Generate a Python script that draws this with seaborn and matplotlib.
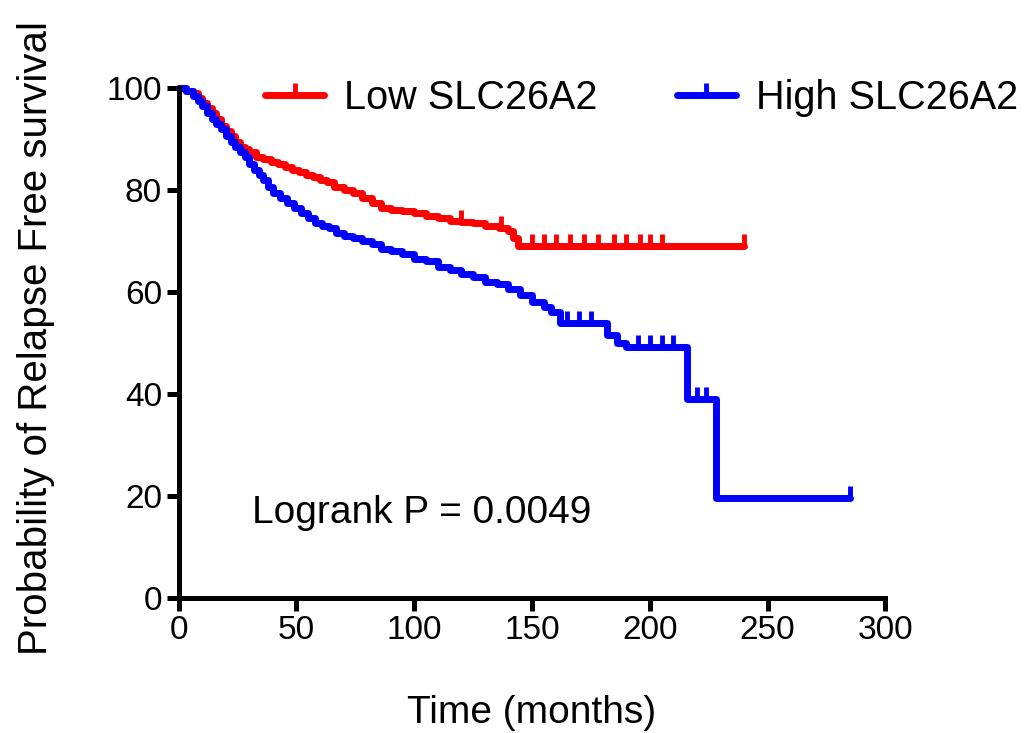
import numpy as np
import pandas as pd
import matplotlib
matplotlib.use("Agg")
import matplotlib.pyplot as plt
import seaborn as sns
from matplotlib.lines import Line2D

# step points of the Kaplan-Meier curves (time in months, survival in %)
low_times = [0, 3, 6, 8, 10, 12, 14, 16, 18, 20, 22, 24, 26, 28, 30, 33, 36, 39, 42, 45,
             48, 51, 54, 57, 60, 63, 66, 70, 74, 78, 82, 86, 90, 95, 100, 105, 110, 115,
             120, 125, 130, 136, 140, 142, 144, 240]
low_surv = [100, 99.5, 99, 98, 97, 96, 95, 94, 92.5, 91.5, 90.5, 89.5, 88.5, 88, 87.5, 86.5,
            86, 85.5, 85, 84.5, 84, 83.5, 83, 82.5, 82, 81.5, 80.5, 80, 79.5, 78.5, 77.5,
            76.5, 76, 75.8, 75.5, 75, 74.5, 74, 73.8, 73.5, 73, 72.5, 72, 70.5, 69, 69]
low_censor = [120, 137, 150, 155, 160, 166, 172, 178, 185, 190, 196, 200, 205, 240]

high_times = [0, 3, 6, 8, 10, 12, 14, 16, 18, 20, 22, 24, 26, 28, 30, 32, 34, 36, 38, 40,
              43, 46, 49, 52, 55, 58, 61, 64, 67, 70, 74, 78, 82, 86, 90, 95, 100, 105,
              110, 115, 120, 125, 130, 135, 140, 145, 150, 155, 158, 162, 182, 186, 190,
              216, 228, 285]
high_surv = [100, 99.5, 98.5, 97.5, 96.5, 95, 94, 93, 92, 90.5, 89.5, 88.5, 87.5, 86.5, 85,
             84, 83, 82, 80.5, 79.5, 78.5, 77.5, 76.5, 75.5, 74.5, 73.5, 73, 72.5, 71.5, 71,
             70.5, 70, 69.5, 68.5, 68, 67.5, 66.5, 66, 65, 64.3, 63.5, 63, 62, 61.5, 60.5,
             59.5, 58, 57, 56, 54, 51.5, 50, 49.2, 39, 19.6, 19.6]
high_censor = [165, 170, 175, 195, 200, 205, 210, 220, 224, 285]

groups = ["Low SLC26A2", "High SLC26A2"]
colors = {"Low SLC26A2": "#ff0000", "High SLC26A2": "#0000ff"}

df = pd.concat([
    pd.DataFrame({"time": low_times, "surv": low_surv, "group": groups[0]}),
    pd.DataFrame({"time": high_times, "surv": high_surv, "group": groups[1]}),
])

def surv_at(times, surv, t):
    idx = np.searchsorted(times, t, side="right") - 1
    return np.array(surv)[idx]

sns.set_style("ticks")
plt.rcParams["font.family"] = ["Liberation Sans", "DejaVu Sans"]
plt.rcParams["text.color"] = "black"
plt.rcParams["axes.labelcolor"] = "black"

fig = plt.figure(figsize=(10.27, 7.33), dpi=100)
ax = fig.add_axes([0.174, 0.184, 0.688, 0.696])

sns.lineplot(data=df, x="time", y="surv", hue="group", palette=colors,
             estimator=None, sort=False, drawstyle="steps-post", lw=5,
             legend=False, ax=ax, clip_on=False)

for times, surv, cens, g in [(low_times, low_surv, low_censor, groups[0]),
                             (high_times, high_surv, high_censor, groups[1])]:
    ax.plot(cens, surv_at(times, surv, cens), ls="none", marker=2, ms=9, mew=3.5,
            color=colors[g], clip_on=False)

ax.set_xlim(0, 300)
ax.set_ylim(0, 100)
ax.set_xticks(range(0, 301, 50))
ax.set_yticks(range(0, 101, 20))
ax.tick_params(labelsize=24, width=3.6, length=9, direction="out",
               color="black", labelcolor="black", pad=3)
for s in ["left", "bottom"]:
    ax.spines[s].set_linewidth(3.6)
    ax.spines[s].set_color("black")
sns.despine(ax=ax)

ax.set_xlabel("Time (months)", fontsize=28, va="baseline")
ax.xaxis.set_label_coords(0.50, -0.245)
ax.set_ylabel("Probability of Relapse Free survival", fontsize=29, va="baseline")
ax.yaxis.set_label_coords(-0.187, 0.509)
ax.text(31, 14.7, "Logrank P = 0.0049", fontsize=28, va="baseline")

handles = [Line2D([0], [0], color=colors[g], lw=5, marker=2, ms=9, mew=3.5,
                  solid_capstyle="round") for g in groups]
fig.legend(handles, groups, loc="center left", bbox_to_anchor=(0.258, 0.866),
           ncol=2, frameon=False, fontsize=28.5, handlelength=1.5, columnspacing=2.0,
           handletextpad=0.5, borderpad=0, borderaxespad=0)

fig.savefig("out.png", dpi=100)
